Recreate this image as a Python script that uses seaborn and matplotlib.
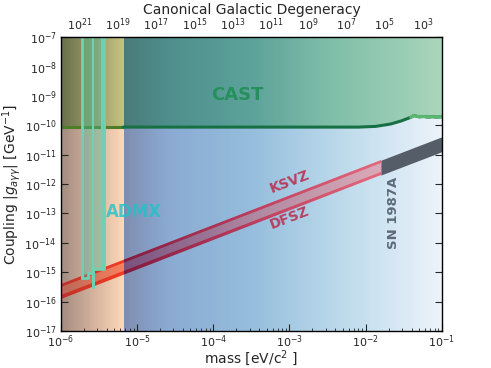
import numpy as np
import matplotlib

matplotlib.use("Agg")
import matplotlib.pyplot as plt
import seaborn as sns
from matplotlib.colors import LinearSegmentedColormap
from matplotlib.patches import Polygon
from matplotlib.ticker import LogLocator, NullLocator

sns.set_style("ticks")
plt.rcParams["font.family"] = ["DejaVu Sans"]

# ---- data ----
MASS_LIM = [1e-6, 1e-1]          # eV/c^2
G_LIM = [1e-17, 1e-7]            # GeV^-1
HALO_EDGE = 6.55e-6              # end of the orange (cavity) band

# CAST helioscope limit
cast_mass = [1e-6, 6.55e-6, 8e-3, 1.35e-2, 2.1e-2, 2.9e-2, 3.9e-2, 4.3e-2,
             5.0e-2, 5.8e-2, 6.6e-2, 7.5e-2, 8.5e-2, 1e-1]
cast_g = [8.7e-11, 8.7e-11, 8.7e-11, 9.2e-11, 1.1e-10, 1.4e-10, 1.87e-10, 2.15e-10,
          1.95e-10, 2.0e-10, 1.9e-10, 1.97e-10, 1.9e-10, 1.95e-10]

# ADMX exclusion (step edges and lower limits)
admx_edges = [1.89e-6, 2.27e-6, 2.62e-6, 2.66e-6, 3.68e-6]
admx_lower = [6.5e-16, 9.4e-16, 3.2e-16, 1.25e-15]
admx_runs = [2.64e-6, 3.49e-6]   # boundaries between scan runs

# QCD axion band
band_mass = [1e-6, 1.58e-2, 1e-1]
ksvz_g = [3.6e-16, 5.7e-12, 3.6e-11]
dfsz_g = [1.44e-16, 2.3e-12, 1.44e-11]
sn_mass_min = 1.58e-2            # SN 1987A bound starts here

# top axis: canonical galactic degeneracy
deg_ticks = [1e21, 1e19, 1e17, 1e15, 1e13, 1e11, 1e9, 1e7, 1e5, 1e3]
deg_labels = ["$10^{21}$", "$10^{19}$", "$10^{17}$", "$10^{15}$", "$10^{13}$",
              "$10^{11}$", "$10^{9}$", "$10^{7}$", "$10^{5}$", "$10^{3}$"]


def frac(m):
    lo, hi = np.log10(MASS_LIM)
    return (np.log10(m) - lo) / (hi - lo)


f_edge = frac(HALO_EDGE)


def cmap_from(stops):
    return LinearSegmentedColormap.from_list("c", stops, N=512)


bg_low = cmap_from([(0, "#a48c80"), (0.08, "#d2b09c"), (f_edge, "#fdd8b8"),
                    (f_edge + 1e-4, "#7e8db0"), (0.28, "#8aaad2"), (0.50, "#95bddc"),
                    (0.62, "#a8cce4"), (0.76, "#c0dcec"), (0.89, "#d8e8f4"),
                    (1, "#ecf3fa")])
bg_high = cmap_from([(0, "#6a704c"), (f_edge, "#c5c27e"), (f_edge + 1e-4, "#4a7a78"),
                     (0.28, "#4e8e8c"), (0.50, "#5ca29a"), (0.71, "#80bea8"),
                     (0.89, "#98ccb4"), (1, "#aad5ba")])
band_line = cmap_from([(0, "#c0302a"), (f_edge, "#f23c22"), (f_edge + 1e-4, "#821a3e"),
                       (0.52, "#c03e5e"), (0.82, "#e2667a"), (1, "#e8707e")])
band_fill = cmap_from([(0, "#b86858"), (f_edge, "#f8805e"), (f_edge + 1e-4, "#78527e"),
                       (0.52, "#b08aa2"), (0.82, "#d8a8b6"), (1, "#e0b0bc")])


def gradient(ax, cmap, zorder, clip=None):
    xe = np.logspace(np.log10(MASS_LIM[0]), np.log10(MASS_LIM[1]), 401)
    c = np.linspace(0, 1, 400)[None, :]
    mesh = ax.pcolormesh(xe, G_LIM, c, cmap=cmap, vmin=0, vmax=1, shading="flat",
                         zorder=zorder, antialiased=False, linewidth=0)
    if clip is not None:
        mesh.set_clip_path(clip)
    return mesh


fig = plt.figure(figsize=(4.91, 3.68), dpi=100)
ax = fig.add_axes([0.124, 0.1005, 0.776, 0.7985])
ax.set_xscale("log")
ax.set_yscale("log")
ax.set_xlim(MASS_LIM)
ax.set_ylim(G_LIM)

# backgrounds
gradient(ax, bg_low, 0.5)
cast_poly = Polygon(list(zip(cast_mass, cast_g)) + [(MASS_LIM[1], G_LIM[1]), (MASS_LIM[0], G_LIM[1])],
                    closed=True, transform=ax.transData, facecolor="none", edgecolor="none")
ax.add_patch(cast_poly)
gradient(ax, bg_high, 0.6, clip=cast_poly)

# CAST line
cm = np.array(cast_mass)
cg = np.array(cast_g)
left = cm <= HALO_EDGE
right = cm >= HALO_EDGE
sns.lineplot(x=cm[left], y=cg[left], ax=ax, color="#4e7d28", linewidth=2.2, zorder=2)
sns.lineplot(x=cm[right], y=cg[right], ax=ax, color="#177044", linewidth=2.2, zorder=2)
# lighter green at the high mass end
hi = cm >= 3.9e-2
sns.lineplot(x=cm[hi], y=cg[hi], ax=ax, color="#5cb870", linewidth=2.2, zorder=2.1)

# axion band, lines drawn as slightly wider polygon behind the fill
hw = 10 ** 0.055
bm = np.array(band_mass)
kg = np.array(ksvz_g)
dg = np.array(dfsz_g)
col = bm <= sn_mass_min
outer = Polygon(list(zip(bm[col], kg[col] * hw)) + list(zip(bm[col][::-1], dg[col][::-1] / hw)),
                closed=True, transform=ax.transData, facecolor="none", edgecolor="none")
inner = Polygon(list(zip(bm[col], kg[col] / hw)) + list(zip(bm[col][::-1], dg[col][::-1] * hw)),
                closed=True, transform=ax.transData, facecolor="none", edgecolor="none")
ax.add_patch(outer)
ax.add_patch(inner)
gradient(ax, band_line, 3.0, clip=outer)
gradient(ax, band_fill, 3.1, clip=inner)
sn = bm >= sn_mass_min
ax.fill_between(bm[sn], dg[sn] / hw, kg[sn] * hw, color="#555e68", linewidth=0, zorder=3.2)

# ADMX
ex = np.array(admx_edges)
lo = np.array(admx_lower + [admx_lower[-1]])
ax.fill_between(ex, lo, G_LIM[1], step="post", color="#48be9b", alpha=0.4,
                linewidth=0, zorder=4)
ax.step(np.r_[ex[0], ex, ex[-1]], np.r_[G_LIM[1], lo, G_LIM[1]], where="post",
        color="#6cd2b2", linewidth=2, zorder=4.1)
ax.plot([ex[0], ex[0]], [G_LIM[1], lo[0]], color="#6cd2b2", linewidth=2, zorder=4.1)
run_lower = [admx_lower[2], admx_lower[3]]
for r, rl in zip(admx_runs, run_lower):
    ax.plot([r, r], [G_LIM[1], rl], color="#6cd2b2", linewidth=1.5, zorder=4.1)

# labels
ax.text(2.1e-4, 1.07e-9, "CAST", color="#25905c", fontsize=13, fontweight="bold",
        ha="center", va="center", zorder=6)
ax.text(9.1e-6, 1.1e-13, "ADMX", color="#1ec4c8", alpha=0.8, fontsize=12,
        fontweight="bold", ha="center", va="center", zorder=6)
ax.text(1.0e-3, 1.17e-12, "KSVZ", color="#b8405e", fontsize=10, fontweight="bold",
        rotation=21, ha="center", va="center", zorder=6)
ax.text(1.0e-3, 6.9e-14, "DFSZ", color="#b8405e", fontsize=10, fontweight="bold",
        rotation=21, ha="center", va="center", zorder=6)
ax.text(2.35e-2, 1.03e-13, "SN 1987A", color="#5e6a76", fontsize=9.5,
        fontweight="bold", rotation=90, ha="center", va="center", zorder=6)

ax.set_xlabel("mass [eV/c$^2$ ]", fontsize=10, labelpad=-1)
ax.set_ylabel("Coupling $|g_{a\\gamma\\gamma}|$ [GeV$^{-1}$]", fontsize=10, labelpad=1)

ax.yaxis.set_major_locator(LogLocator(base=10, numticks=12))
ax.xaxis.set_major_locator(LogLocator(base=10, numticks=8))
ax.tick_params(which="both", direction="in", top=False, right=True, labelsize=8)
ax.tick_params(which="major", length=5, width=0.8)
ax.tick_params(which="minor", length=2.5, width=0.6)
ax.tick_params(axis="x", which="major", pad=1.5)
ax.tick_params(axis="y", which="major", pad=3)
for s in ax.spines.values():
    s.set_color("black")
    s.set_linewidth(1.0)
    s.set_zorder(10)

secax = ax.secondary_xaxis("top", functions=(lambda m: 1e-2 / np.asarray(m) ** 4,
                                              lambda d: (1e-2 / np.asarray(d)) ** 0.25))
secax.set_xticks(deg_ticks)
secax.set_xticklabels(deg_labels)
secax.xaxis.set_minor_locator(NullLocator())
secax.tick_params(direction="in", length=5, width=0.8, labelsize=8, pad=3)
secax.set_xlabel("Canonical Galactic Degeneracy", fontsize=10, labelpad=2)

fig.savefig("out.png", dpi=100)
